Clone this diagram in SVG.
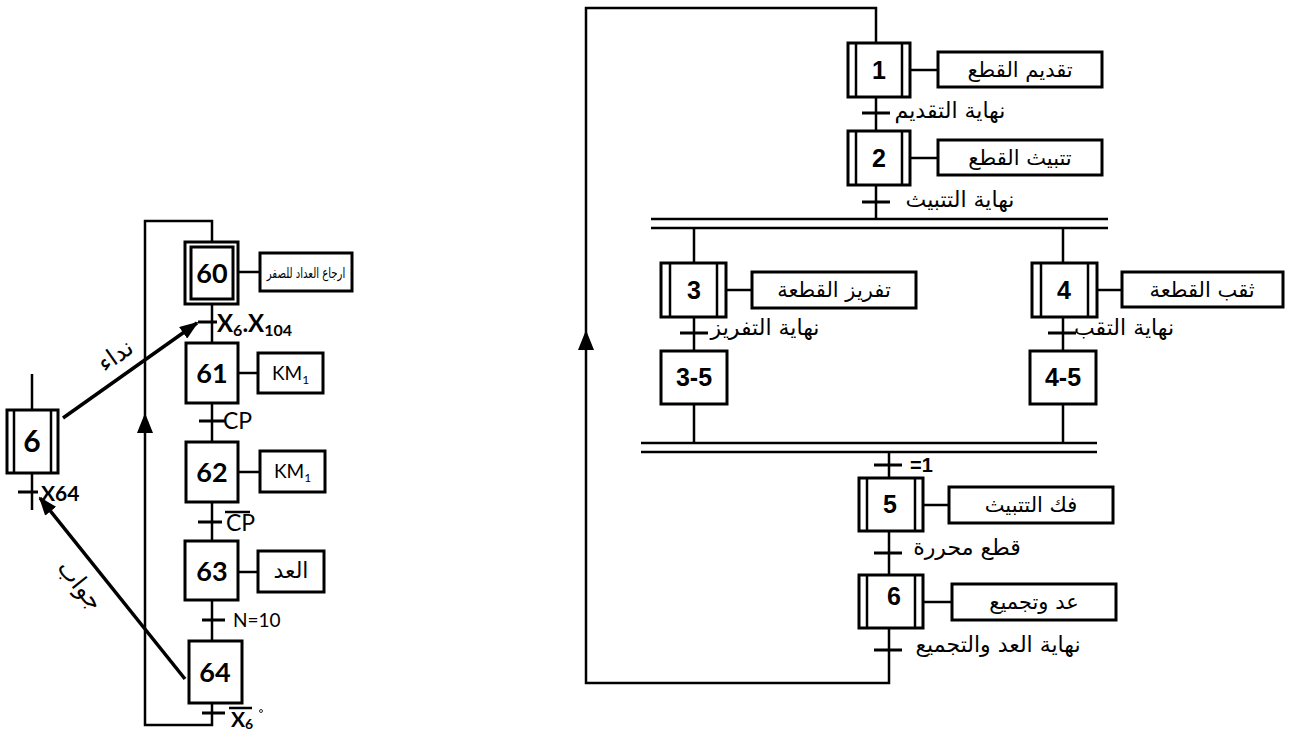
<svg xmlns="http://www.w3.org/2000/svg" width="1291" height="731" viewBox="0 0 1291 731">
<style>
.box{fill:#fff;stroke:#000;stroke-width:3}
.ln{fill:none;stroke:#000;stroke-width:2.5}
.tk{fill:none;stroke:#000;stroke-width:3}
.num{font-family:"Liberation Sans",Arial,sans-serif;font-weight:bold;font-size:25px;text-anchor:middle}
.numL{font-family:Lato,"Liberation Sans",sans-serif;font-weight:bold;font-size:27px;text-anchor:middle}
.ar{font-family:"DejaVu Sans","Noto Sans",sans-serif;font-size:21px;text-anchor:middle}
.tr{font-family:"DejaVu Sans","Noto Sans",sans-serif;font-size:22px;text-anchor:middle}
.lat{font-family:Lato,"Liberation Sans",sans-serif;font-size:19px}
.latb{font-family:Lato,"Liberation Sans",sans-serif;font-weight:bold;font-size:24px}
</style>
<defs>
<marker id="ah" markerWidth="19" markerHeight="14" refX="17" refY="7" orient="auto" markerUnits="userSpaceOnUse" viewBox="0 0 19 14">
<path d="M0,0 L19,7 L0,14 Z" fill="#000"/>
</marker>
</defs>

<g id="connectors">
<path class="ln" d="M876,43 V8 H586 V683 H889 V628"/>
<polygon points="586,330 578,350 594,350" fill="#000"/>
<path class="ln" d="M876,97 V131 M876,185 V219 M694,228 V263 M1063,228 V263 M694,317 V351 M694,404 V443 M1063,317 V351 M1063,404 V443 M889,452 V478 M889,531 V575"/>
<path class="ln" d="M651,219 H1108 M651,228 H1108 M641,443 H1097 M641,452 H1097"/>
<path class="tk" d="M862,113 H890 M862,202 H890 M680,333 H708 M1048,333 H1076 M874,465 H902 M874,553 H902 M874,650 H902"/>
<path class="ln" d="M910,70 H938 M910,158 H938 M726,290 H752 M1097,290 H1122 M923,505 H949 M923,602 H952"/>
<path class="ln" d="M212,242 V221 H145 V725 H212 V703"/>
<polygon points="145,413 137,433 153,433" fill="#000"/>
<path class="ln" d="M212,304 V343 M212,403 V442 M212,502 V541 M212,600 V641"/>
<path class="tk" d="M198,322 H217 M199,421 H226 M198,522 H222 M202,620 H225 M202,713 H225"/>
<path class="ln" d="M238,272 H260 M238,373 H258 M238,472 H260 M238,572 H258"/>
<path class="ln" d="M32,374 V410 M32,473 V510"/>
<path class="tk" d="M18,492 H38"/>
<line x1="63" y1="418" x2="197" y2="323" stroke="#000" stroke-width="3.5" marker-end="url(#ah)"/>
<line x1="185" y1="679" x2="40" y2="498" stroke="#000" stroke-width="3.5" marker-end="url(#ah)"/>
</g>

<g id="transitions-right">
<text class="tr" x="950" y="118">نهاية التقديم</text>
<text class="tr" x="960" y="207">نهاية التتبيث</text>
<text class="tr" x="765" y="335">نهاية التفريز</text>
<text class="tr" x="1124" y="335">نهاية التقب</text>
<text x="910" y="472" font-family="Liberation Sans,Arial,sans-serif" font-weight="bold" font-size="20">=1</text>
<text class="tr" x="967" y="555">قطع محررة</text>
<text class="tr" x="998" y="652">نهاية العد والتجميع</text>
</g>

<g id="step1">
<rect class="box" x="848" y="43" width="62" height="54"/>
<path class="ln" d="M856,43 V97 M902,43 V97"/>
<text class="num" x="879" y="79">1</text>
</g>
<g id="action1"><rect class="box" x="938" y="52" width="164" height="35"/><text class="ar" x="1020" y="77">تقديم القطع</text></g>

<g id="step2">
<rect class="box" x="848" y="131" width="62" height="54"/>
<path class="ln" d="M856,131 V185 M902,131 V185"/>
<text class="num" x="879" y="167">2</text>
</g>
<g id="action2"><rect class="box" x="938" y="140" width="164" height="35"/><text class="ar" x="1020" y="165">تتبيث القطع</text></g>

<g id="step3">
<rect class="box" x="661" y="263" width="65" height="54"/>
<path class="ln" d="M670,263 V317 M717,263 V317"/>
<text class="num" x="694" y="299">3</text>
</g>
<g id="action3"><rect class="box" x="752" y="272" width="164" height="36"/><text class="ar" x="834" y="297">تفريز القطعة</text></g>

<g id="step3-5">
<rect class="box" x="661" y="351" width="66" height="53"/>
<text class="num" x="694" y="386">3-5</text>
</g>

<g id="step4">
<rect class="box" x="1032" y="263" width="65" height="54"/>
<path class="ln" d="M1041,263 V317 M1088,263 V317"/>
<text class="num" x="1064" y="299">4</text>
</g>
<g id="action4"><rect class="box" x="1122" y="272" width="161" height="35"/><text class="ar" x="1202" y="297">ثقب القطعة</text></g>

<g id="step4-5">
<rect class="box" x="1030" y="351" width="66" height="53"/>
<text class="num" x="1063" y="386">4-5</text>
</g>

<g id="step5">
<rect class="box" x="859" y="478" width="64" height="53"/>
<path class="ln" d="M867,478 V531 M915,478 V531"/>
<text class="num" x="890" y="513">5</text>
</g>
<g id="action5"><rect class="box" x="949" y="487" width="164" height="36"/><text class="ar" x="1031" y="512">فك التتبيث</text></g>

<g id="step6">
<rect class="box" x="859" y="575" width="64" height="53"/>
<path class="ln" d="M867,575 V628 M915,575 V628"/>
<text class="num" x="894" y="605">6</text>
</g>
<g id="action6"><rect class="box" x="952" y="584" width="164" height="36"/><text class="ar" x="1034" y="609">عد وتجميع</text></g>

<g id="step60">
<rect class="box" x="185" y="242" width="53" height="62"/>
<rect class="box" x="191" y="247" width="42" height="52"/>
<text class="numL" x="212" y="283">60</text>
</g>
<g id="action60"><rect class="box" x="260" y="253" width="92" height="38"/><text class="ar" style="font-size:14px" transform="translate(306,278) scale(0.72,1)">ارجاع العداد للصفر</text></g>
<g id="cond60"><text class="latb" x="217" y="332">X<tspan style="font-size:16px" dy="4">6</tspan><tspan dy="-4">.X</tspan><tspan style="font-size:16px" dy="4">104</tspan></text></g>

<g id="step61">
<rect class="box" x="186" y="343" width="52" height="60"/>
<text class="numL" x="212" y="383">61</text>
</g>
<g id="action61"><rect class="box" x="258" y="353" width="65" height="40"/><text class="lat" x="272" y="380">KM<tspan style="font-size:12px" dy="4">1</tspan></text></g>
<g id="cond61"><text class="lat" style="font-size:23px" x="223" y="429">CP</text></g>

<g id="step62">
<rect class="box" x="186" y="442" width="52" height="60"/>
<text class="numL" x="212" y="482">62</text>
</g>
<g id="action62"><rect class="box" x="260" y="451" width="65" height="41"/><text class="lat" x="274" y="478">KM<tspan style="font-size:12px" dy="4">1</tspan></text></g>
<g id="cond62"><text class="lat" style="font-size:23px" x="226" y="531">CP</text><path class="ln" d="M225,512 H250"/></g>

<g id="step63">
<rect class="box" x="185" y="541" width="53" height="59"/>
<text class="numL" x="212" y="581">63</text>
</g>
<g id="action63"><rect class="box" x="258" y="551" width="66" height="41"/><text class="ar" x="291" y="578" style="font-size:22px">العد</text></g>
<g id="cond63"><text class="lat" x="233" y="627" style="font-size:19px">N=10</text></g>

<g id="step64">
<rect class="box" x="189" y="641" width="53" height="62"/>
<text class="numL" x="215" y="682">64</text>
</g>
<g id="cond64">
<text class="latb" x="231" y="727" style="font-size:21px">X<tspan style="font-size:14px" dy="2">6</tspan></text>
<path class="ln" d="M229,708 H252"/>
<circle cx="261" cy="711" r="1.5" fill="none" stroke="#000" stroke-width="0.8"/>
</g>

<g id="step6-left">
<rect class="box" x="7" y="410" width="51" height="63"/>
<path class="ln" d="M14,410 V473 M51,410 V473"/>
<text class="numL" x="32" y="452" style="font-size:30px">6</text>
<text x="41" y="501" font-family="Lato,Liberation Sans,sans-serif" font-weight="bold" font-size="21">X64</text>
</g>

<g id="labels-arrows">
<text class="ar" style="font-size:24px" transform="translate(120,362) rotate(-35.3)">نداء</text>
<text class="ar" style="font-size:24px" transform="translate(74,590) rotate(51.3)">جواب</text>
</g>
</svg>
